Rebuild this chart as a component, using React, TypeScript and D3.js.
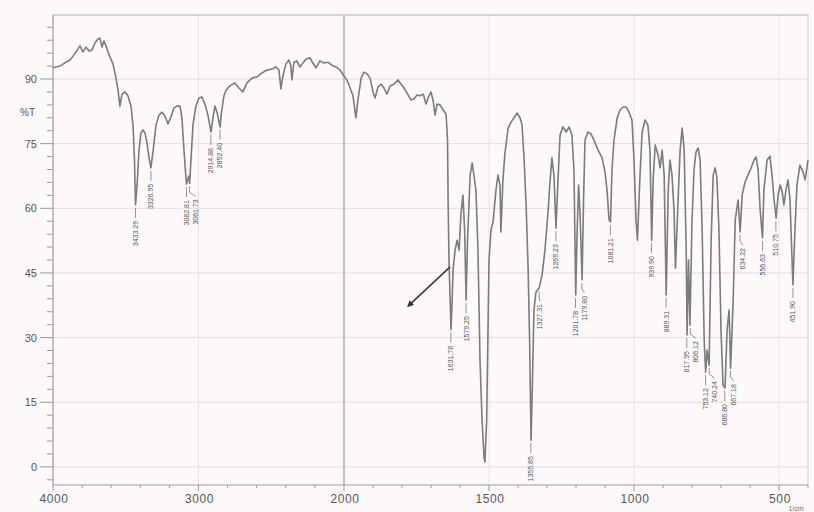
import React, { useEffect, useRef } from 'react';
import * as d3 from 'd3';

// IR spectrum: wavenumber (1/cm) vs transmittance (%T)
const wavenumbers = [
  4000, 3952, 3911, 3883, 3856, 3828, 3815, 3794, 3773, 3753, 3732, 3711, 3691, 3677, 3663, 3650, 3636, 3622, 3608, 3588,
  3567, 3553, 3540, 3526, 3505, 3485, 3464, 3450, 3440, 3433, 3422, 3409, 3395, 3382, 3368, 3354, 3340, 3327, 3313, 3292,
  3272, 3251, 3231, 3210, 3189, 3169, 3148, 3127, 3114, 3100, 3086, 3082, 3076, 3066, 3061, 3052, 3038, 3018, 2997, 2976,
  2956, 2935, 2914, 2901, 2887, 2873, 2852, 2842, 2825, 2811, 2784, 2750, 2722, 2695, 2667, 2633, 2598, 2564, 2530, 2495,
  2468, 2447, 2434, 2420, 2399, 2379, 2365, 2358, 2344, 2324, 2303, 2282, 2262, 2234, 2214, 2193, 2166, 2138, 2111, 2083,
  2056, 2028, 2000,
  1990, 1979, 1969, 1959, 1952, 1941, 1931, 1921, 1910, 1900, 1893, 1883, 1872, 1862, 1852, 1841, 1828, 1814, 1803, 1793,
  1779, 1769, 1758, 1748, 1738, 1727, 1717, 1710, 1700, 1693, 1686, 1679, 1669, 1658, 1648, 1643, 1641, 1638, 1634, 1631,
  1627, 1624, 1617, 1610, 1603, 1597, 1590, 1584, 1579, 1574, 1565, 1558, 1552, 1545, 1538, 1531, 1524, 1517, 1514, 1508,
  1503, 1500, 1493, 1486, 1476, 1469, 1462, 1459, 1452, 1445, 1434, 1424, 1414, 1403, 1393, 1386, 1379, 1372, 1365, 1360,
  1355, 1350, 1345, 1338, 1327, 1317, 1307, 1296, 1290, 1283, 1276, 1269, 1262, 1255, 1245, 1234, 1224, 1214, 1207, 1201,
  1196, 1191, 1186, 1179, 1174, 1169, 1159, 1148, 1138, 1124, 1110, 1100, 1093, 1086, 1081, 1076, 1069, 1058, 1048, 1038,
  1027, 1017, 1007, 1000, 993, 988, 980, 972, 962, 952, 945, 939, 934, 927, 917, 910, 903, 896, 889, 882,
  876, 869, 862, 857, 848, 841, 834, 827, 820, 817, 812, 807, 800, 793, 786, 779, 772, 765, 758, 753,
  748, 741, 734, 727, 720, 714, 707, 700, 693, 686, 679, 672, 667, 658, 651, 641, 634, 627, 617, 607,
  596, 586, 579, 572, 565, 557, 552, 541, 531, 524, 517, 510, 503, 496, 489, 483, 476, 469, 462, 455,
  452, 445, 438, 428, 417, 410, 400,
];

const transmittance = [
  92.6, 93.0, 93.9, 94.4, 95.6, 97.0, 97.7, 96.3, 97.4, 96.5, 96.7, 98.4, 99.3, 99.5, 97.4, 98.8, 97.7, 96.3, 95.1, 93.5,
  90.2, 87.4, 83.7, 86.5, 87.0, 86.1, 83.7, 79.3, 71.2, 60.8, 65.4, 73.5, 77.5, 78.2, 77.5, 75.2, 71.7, 69.4, 73.1, 79.3,
  81.6, 82.3, 81.4, 79.6, 81.2, 83.3, 83.7, 83.7, 81.0, 73.5, 67.0, 65.6, 66.5, 67.5, 65.8, 71.2, 79.3, 83.7, 85.6, 85.8,
  84.2, 81.6, 77.7, 81.0, 83.7, 82.3, 78.9, 82.3, 86.1, 87.4, 88.4, 89.1, 87.9, 87.0, 89.1, 90.2, 90.5, 91.4, 92.1, 92.3,
  92.8, 92.1, 87.7, 90.7, 93.5, 94.4, 93.0, 89.8, 93.9, 94.2, 92.8, 93.7, 94.6, 94.9, 93.7, 92.6, 94.2, 93.7, 93.9, 93.2,
  92.8, 92.1, 90.7,
  89.8, 87.9, 86.1, 81.0, 85.1, 90.2, 91.6, 91.2, 90.2, 87.0, 85.6, 88.1, 88.8, 87.9, 86.5, 88.4, 88.8, 89.8, 88.8, 87.9,
  86.3, 85.1, 85.4, 86.3, 86.1, 86.5, 84.2, 85.6, 87.0, 85.1, 81.6, 84.2, 84.0, 82.8, 81.9, 75.8, 61.9, 48.0, 38.7, 31.8,
  38.7, 45.7, 50.3, 52.6, 50.3, 58.4, 63.1, 55.0, 38.7, 52.6, 67.7, 70.5, 67.7, 64.2, 50.3, 24.8, 10.9, 2.1, 1.1, 10.9,
  34.1, 48.0, 55.0, 56.8, 64.2, 67.7, 65.4, 54.5, 66.6, 72.8, 78.6, 80.0, 81.0, 82.1, 81.0, 79.3, 71.2, 60.8, 45.7, 29.4,
  6.2, 20.2, 36.4, 40.6, 41.5, 44.5, 50.3, 59.6, 65.9, 71.7, 67.7, 55.4, 66.6, 77.0, 78.9, 77.7, 78.9, 77.0, 68.9, 39.9,
  55.0, 65.4, 58.4, 43.4, 61.9, 75.8, 77.7, 77.2, 75.8, 73.5, 71.7, 68.4, 64.2, 57.3, 56.8, 68.9, 75.8, 81.0, 82.8, 83.5,
  83.5, 82.3, 80.5, 71.2, 57.3, 52.6, 66.6, 77.7, 80.5, 79.3, 73.5, 52.6, 66.6, 74.7, 72.4, 69.4, 73.5, 67.7, 39.9, 64.2,
  71.2, 67.7, 59.6, 46.1, 61.9, 73.5, 78.6, 73.5, 50.3, 30.6, 48.0, 32.9, 57.3, 68.9, 73.1, 74.0, 71.2, 55.0, 29.4, 22.0,
  27.1, 23.6, 52.6, 67.7, 69.4, 67.0, 55.0, 31.8, 19.0, 18.3, 31.8, 36.4, 22.9, 38.7, 57.3, 61.9, 54.5, 63.1, 66.1, 67.7,
  69.4, 71.2, 71.9, 68.9, 59.6, 53.1, 64.2, 71.2, 72.1, 67.7, 61.9, 57.7, 63.1, 65.4, 63.8, 60.8, 64.2, 66.6, 61.9, 48.0,
  42.2, 55.0, 65.4, 70.0, 68.4, 66.6, 71.2,
];

const peakLabels = [
  '3433.29', '3326.95', '3082.81', '3061.73', '2914.88', '2852.40',
  '1631.78', '1579.25', '1355.85', '1327.31', '1269.23', '1201.78', '1179.80', '1081.21',
  '939.90', '889.31', '817.95', '806.12', '753.12', '740.24', '686.80', '667.18',
  '634.22', '556.63', '510.75', '451.90',
];

const yTicks = [0, 15, 30, 45, 60, 75, 90];
const xTicks = [4000, 3000, 2000, 1500, 1000, 500];
const yAxisTitle = '%T';
const xUnit = '1/cm';
const arrowFrom = [1634, 46.4];
const arrowTo = [1779, 37.3];

export default function App() {
  const ref = useRef<SVGSVGElement>(null);

  useEffect(() => {
    const svg = d3.select(ref.current);
    svg.selectAll('*').remove();

    const x = d3.scaleLinear().domain([4000, 2000, 400]).range([53, 344, 808]);
    const y = d3.scaleLinear().domain([-4.2, 104.85]).range([485, 15]);
    const [x0, x1] = [x(4000), x(400)];
    const [yb, yt] = [y(-4.2), y(104.85)];
    const font = 'Liberation Sans, Arial, sans-serif';

    const defs = svg.append('defs');
    defs.append('filter').attr('id', 'soft')
      .append('feGaussianBlur').attr('stdDeviation', 0.35);
    defs.append('marker').attr('id', 'ah').attr('viewBox', '0 0 10 10')
      .attr('refX', 8).attr('refY', 5).attr('markerWidth', 4).attr('markerHeight', 4)
      .attr('orient', 'auto')
      .append('path').attr('d', 'M0,0 L10,5 L0,10 z').attr('fill', '#333');

    svg.append('rect').attr('width', 814).attr('height', 512).attr('fill', '#fdf9fb');

    // horizontal grid
    svg.append('g').selectAll('line').data(yTicks).join('line')
      .attr('x1', x0).attr('x2', x1)
      .attr('y1', (d) => y(d)).attr('y2', (d) => y(d))
      .attr('stroke', '#e4dce1').attr('stroke-width', 1);

    // vertical grid
    svg.append('g').selectAll('line').data(xTicks.filter((d) => d !== 4000)).join('line')
      .attr('x1', (d) => x(d)).attr('x2', (d) => x(d))
      .attr('y1', yt).attr('y2', yb)
      .attr('stroke', (d) => (d === 2000 ? '#a9a5a7' : '#ebe3e7'))
      .attr('stroke-width', (d) => (d === 2000 ? 1.4 : 1));

    // frame
    svg.append('line').attr('x1', x0).attr('x2', x1).attr('y1', yt).attr('y2', yt).attr('stroke', '#b3afb1').attr('stroke-width', 1.2);
    svg.append('line').attr('x1', x1).attr('x2', x1).attr('y1', yt).attr('y2', yb).attr('stroke', '#d2cdd0').attr('stroke-width', 1);
    svg.append('line').attr('x1', x0).attr('x2', x0).attr('y1', yt).attr('y2', yb).attr('stroke', '#9c9a9b').attr('stroke-width', 1.2);
    svg.append('line').attr('x1', x0).attr('x2', x1).attr('y1', yb).attr('y2', yb).attr('stroke', '#9c9a9b').attr('stroke-width', 1.2);

    // y ticks
    const yMinor = d3.range(-3, 105, 3);
    svg.append('g').selectAll('line').data(yMinor).join('line')
      .attr('x1', (d) => (d % 15 === 0 ? x0 - 13 : x0 - 6)).attr('x2', x0)
      .attr('y1', (d) => y(d)).attr('y2', (d) => y(d))
      .attr('stroke', '#9a9899').attr('stroke-width', 1);
    svg.append('g').selectAll('text').data(yTicks).join('text')
      .attr('x', x0 - 16).attr('y', (d) => y(d) + 4)
      .attr('text-anchor', 'end').attr('font-family', font).attr('font-size', 11)
      .attr('fill', '#555').text((d) => String(d));
    svg.append('text').attr('x', 35).attr('y', y(82.3) + 4).attr('text-anchor', 'end')
      .attr('font-family', font).attr('font-size', 10).attr('fill', '#555').text(yAxisTitle);

    // x ticks
    const xMinor = [...d3.range(4000, 2000, -200), ...d3.range(2000, 399, -100)];
    svg.append('g').selectAll('line').data(xMinor).join('line')
      .attr('x1', (d) => x(d)).attr('x2', (d) => x(d))
      .attr('y1', yb).attr('y2', (d) => (xTicks.includes(d) ? yb + 6 : yb + 3))
      .attr('stroke', '#9a9899').attr('stroke-width', 1);
    svg.append('g').selectAll('text').data(xTicks).join('text')
      .attr('x', (d) => x(d) + 1).attr('y', 503)
      .attr('text-anchor', 'middle').attr('font-family', font).attr('font-size', 12)
      .attr('letter-spacing', 0.6).attr('fill', '#555').text((d) => String(d));
    svg.append('text').attr('x', 796).attr('y', 511).attr('text-anchor', 'middle')
      .attr('font-family', font).attr('font-size', 7).attr('fill', '#666').text(xUnit);

    // spectrum
    const pts = wavenumbers.map((w, i) => [w, transmittance[i]] as [number, number]);
    const line = d3.line<[number, number]>().x((d) => x(d[0])).y((d) => y(d[1]));
    svg.append('path').attr('d', line(pts) as string)
      .attr('fill', 'none').attr('stroke', '#7b7b7b').attr('stroke-width', 1.6)
      .attr('stroke-linejoin', 'round').attr('filter', 'url(#soft)');

    // peak labels
    let prevLx = -100;
    const lg = svg.append('g');
    peakLabels.forEach((lab) => {
      const w = parseFloat(lab);
      let best = pts[0];
      let bestT = Infinity;
      pts.forEach((p) => {
        if (Math.abs(p[0] - w) <= 7 && p[1] < bestT) { bestT = p[1]; best = p; }
      });
      const px = x(w);
      const py = y(best[1]);
      let lx = px;
      if (lx - prevLx < 9) lx = prevLx + 9;
      prevLx = lx;
      const top = py + 16;
      lg.append('path')
        .attr('d', `M${px},${py + 3} L${px},${py + 9} L${lx},${top - 3}`)
        .attr('fill', 'none').attr('stroke', '#777').attr('stroke-width', 0.8);
      lg.append('text')
        .attr('transform', `translate(${lx + 2.5},${top}) rotate(-90)`)
        .attr('text-anchor', 'end').attr('font-family', font).attr('font-size', 7)
        .attr('fill', '#555').text(lab);
    });

    // arrow annotation
    svg.append('line')
      .attr('x1', x(arrowFrom[0])).attr('y1', y(arrowFrom[1]))
      .attr('x2', x(arrowTo[0])).attr('y2', y(arrowTo[1]))
      .attr('stroke', '#3a3a3a').attr('stroke-width', 1.6).attr('marker-end', 'url(#ah)');
  }, []);

  return (
    <svg
      ref={ref}
      width={814}
      height={512}
      style={{ position: 'fixed', left: 0, top: 0, display: 'block' }}
    />
  );
}
